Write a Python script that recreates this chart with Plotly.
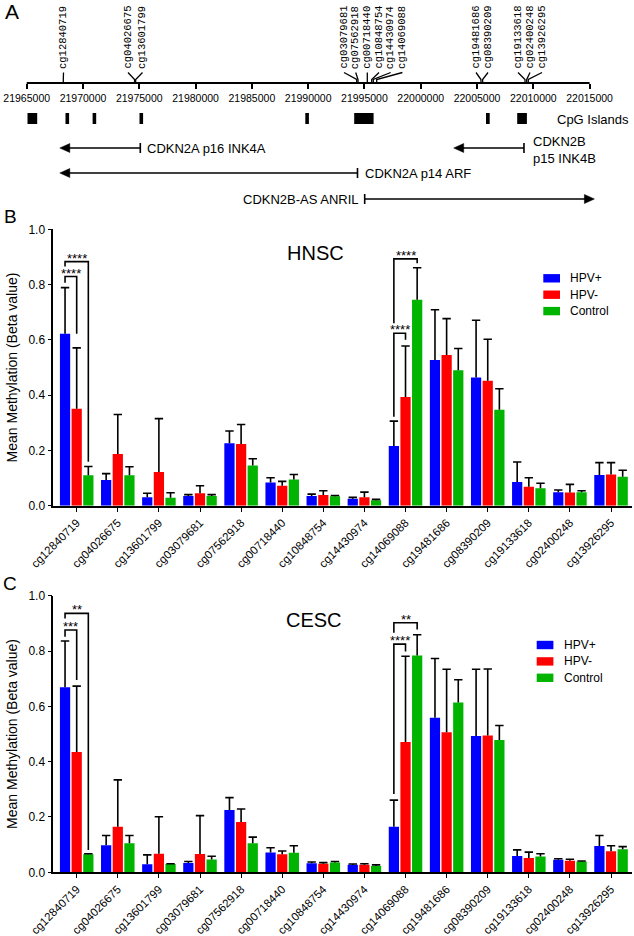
import plotly.graph_objects as go

W, H = 634, 936
FONT = "Liberation Sans, Arial, sans-serif"

# ---------------- data ----------------
probes = ["cg12840719", "cg04026675", "cg13601799", "cg03079681", "cg07562918",
          "cg00718440", "cg10848754", "cg14430974", "cg14069088", "cg19481686",
          "cg08390209", "cg19133618", "cg02400248", "cg13926295"]
series = ["HPV+", "HPV-", "Control"]
colors = ["#0000ff", "#ff0000", "#00b400"]

# HNSC means and SD (upper error)
hnsc_hpvpos = [0.622, 0.093, 0.031, 0.035, 0.226, 0.084, 0.035, 0.025, 0.216, 0.527, 0.464, 0.086, 0.049, 0.111]
hnsc_hpvpos_sd = [0.167, 0.023, 0.014, 0.005, 0.044, 0.017, 0.007, 0.005, 0.090, 0.182, 0.207, 0.072, 0.008, 0.045]
hnsc_hpvneg = [0.351, 0.187, 0.122, 0.045, 0.223, 0.072, 0.039, 0.031, 0.393, 0.545, 0.452, 0.069, 0.048, 0.113]
hnsc_hpvneg_sd = [0.220, 0.143, 0.193, 0.027, 0.071, 0.016, 0.015, 0.018, 0.185, 0.132, 0.150, 0.032, 0.029, 0.043]
hnsc_control = [0.110, 0.110, 0.029, 0.035, 0.145, 0.095, 0.034, 0.020, 0.745, 0.490, 0.347, 0.063, 0.049, 0.105]
hnsc_control_sd = [0.032, 0.031, 0.018, 0.005, 0.025, 0.018, 0.003, 0.003, 0.116, 0.079, 0.076, 0.018, 0.005, 0.023]

# CESC means and SD (upper error)
cesc_hpvpos = [0.669, 0.098, 0.029, 0.034, 0.225, 0.072, 0.033, 0.027, 0.165, 0.559, 0.493, 0.059, 0.045, 0.095]
cesc_hpvpos_sd = [0.167, 0.035, 0.034, 0.005, 0.045, 0.017, 0.004, 0.003, 0.096, 0.214, 0.241, 0.022, 0.004, 0.038]
cesc_hpvneg = [0.435, 0.165, 0.067, 0.066, 0.182, 0.065, 0.031, 0.027, 0.471, 0.506, 0.495, 0.052, 0.042, 0.076]
cesc_hpvneg_sd = [0.238, 0.169, 0.134, 0.139, 0.047, 0.012, 0.004, 0.004, 0.310, 0.228, 0.240, 0.021, 0.005, 0.020]
cesc_control = [0.065, 0.105, 0.030, 0.046, 0.105, 0.071, 0.035, 0.023, 0.784, 0.614, 0.478, 0.057, 0.039, 0.083]
cesc_control_sd = [0.002, 0.028, 0.001, 0.012, 0.022, 0.025, 0.004, 0.004, 0.075, 0.082, 0.053, 0.010, 0.002, 0.010]

# genomic positions (chr9, bp) of the probes
probe_pos = [21968250, 21974580, 21974680, 21994313, 21994428, 21995254, 21995645,
             21995787, 21996089, 22005350, 22005500, 22009261, 22009412, 22009554]
# CpG islands (start, end)
cpg_start = [21965071, 21968446, 21970854, 21975020, 21989747, 21994090, 22005798, 22008569]
cpg_end = [21965933, 21968766, 21971173, 21975339, 21990067, 21995813, 22006127, 22009431]
# genes: transcription start (bar) and end (arrow tip)
gene_names = ["CDKN2A p16 INK4A", "CDKN2A p14 ARF", "CDKN2B p15 INK4B", "CDKN2B-AS ANRIL"]
gene_tss = [21975090, 21994383, 22009170, 21995023]
gene_end = [21967940, 21967940, 22002928, 22015426]
# genomic axis ticks
gtick_vals = list(range(21965000, 22015001, 5000))
gtick_text = [str(v) for v in gtick_vals]

# ---------------- layout helpers ----------------
def py(p):  # pixel row -> paper y
    return 1 - p / H

def px(p):  # pixel col -> paper x
    return p / W

BP_PER_PX = 5000 / 56.29
G0_PX = 26.7  # pixel of 21965000

def px2bp(p):
    return 21965000 + (p - G0_PX) * BP_PER_PX

fig = go.Figure()
BARGAP = 0.15
SLOT = (1 - BARGAP) / 3

panels = [
    ("x", "y", [hnsc_hpvpos, hnsc_hpvneg, hnsc_control], [hnsc_hpvpos_sd, hnsc_hpvneg_sd, hnsc_control_sd]),
    ("x2", "y2", [cesc_hpvpos, cesc_hpvneg, cesc_control], [cesc_hpvpos_sd, cesc_hpvneg_sd, cesc_control_sd]),
]
xs = list(range(len(probes)))
for xa, ya, means, sds in panels:
    for k in range(3):
        fig.add_trace(go.Bar(
            x=xs, y=means[k], name=series[k], marker=dict(color=colors[k], line=dict(width=0)),
            offsetgroup=str(k), xaxis=xa, yaxis=ya, showlegend=False,
            error_y=dict(type="data", array=sds[k], arrayminus=[0] * len(xs), symmetric=False,
                         color="black", thickness=1.6, width=0),
        ))
    for k in range(3):
        fig.add_trace(go.Scatter(
            x=[i + (k - 1) * SLOT for i in xs], y=[m + s for m, s in zip(means[k], sds[k])],
            mode="markers", marker=dict(symbol="line-ew", size=6, line=dict(color="black", width=1.6)),
            xaxis=xa, yaxis=ya, showlegend=False, hoverinfo="skip"))

fig.add_trace(go.Scatter(x=[], y=[], xaxis="x3", yaxis="y3", showlegend=False))

shapes = []
annotations = []

# ---------------- panel A ----------------
AX_Y = 83.0
shapes.append(dict(type="line", xref="x3", yref="paper", x0=gtick_vals[0], x1=gtick_vals[-1],
                   y0=py(AX_Y), y1=py(AX_Y), line=dict(color="black", width=2)))
label_px = [63.5, 128, 142.5, 344, 355.7, 367.3, 379, 390.7, 402.4, 476, 488, 518, 530, 542]
for name, pos, lp in zip(probes, probe_pos, label_px):
    lbp = px2bp(lp)
    shapes.append(dict(type="path", xref="x3", yref="paper",
                       path=f"M {lbp},{py(72.5)} L {pos},{py(79.5)} L {pos},{py(AX_Y)}",
                       line=dict(color="black", width=1.3)))
    annotations.append(dict(text=name, x=lbp, xref="x3", y=py(71), yref="paper",
                            xanchor="center", yanchor="bottom", textangle=-90, showarrow=False,
                            font=dict(family="Liberation Mono, monospace", size=10.5, color="black")))

for s, e in zip(cpg_start, cpg_end):
    shapes.append(dict(type="rect", xref="x3", yref="paper", x0=s, x1=e, y0=py(124), y1=py(113),
                       fillcolor="black", line=dict(width=0)))
annotations.append(dict(text="CpG Islands", x=px(631), y=py(119), xref="paper", yref="paper",
                        xanchor="right", yanchor="middle", showarrow=False,
                        font=dict(family=FONT, size=13, color="black")))

gene_rows = [148, 173, 148, 199]
HEAD = 10 * BP_PER_PX
for tss, end, row in zip(gene_tss, gene_end, gene_rows):
    d = 1 if end > tss else -1
    shapes.append(dict(type="line", xref="x3", yref="paper", x0=tss, x1=end - d * HEAD * 0.8,
                       y0=py(row), y1=py(row), line=dict(color="black", width=1.6)))
    shapes.append(dict(type="line", xref="x3", yref="paper", x0=tss, x1=tss,
                       y0=py(row - 5), y1=py(row + 5), line=dict(color="black", width=1.6)))
    shapes.append(dict(type="path", xref="x3", yref="paper",
                       path=f"M {end},{py(row)} L {end - d * HEAD},{py(row - 4.5)} L {end - d * HEAD},{py(row + 4.5)} Z",
                       fillcolor="black", line=dict(color="black", width=0.5)))

gtxt = dict(family=FONT, size=13, color="black")
annotations += [
    dict(text=gene_names[0], x=px(145), y=py(148), xanchor="left"),
    dict(text=gene_names[1], x=px(363), y=py(173), xanchor="left"),
    dict(text="CDKN2B<br>p15 INK4B", x=px(531), y=py(150), xanchor="left", align="left"),
    dict(text=gene_names[3], x=px(361), y=py(199), xanchor="right"),
]
for a in annotations[-4:]:
    a.update(xref="paper", yref="paper", yanchor="middle", showarrow=False, font=gtxt)

# panel letters
for letter, lx, ly, sz in [("A", 12, 12, 21), ("B", 10, 216, 19), ("C", 10, 583, 19)]:
    annotations.append(dict(text=letter, x=px(lx), y=py(ly), xref="paper", yref="paper",
                            xanchor="center", yanchor="middle", showarrow=False,
                            font=dict(family=FONT, size=sz, color="black")))

# ---------------- panels B & C decorations ----------------
brackets = {
    ("x", "y"): [(0, 0, 1, 0.829, 0.807, 0.622, "****"),
                 (0, 0, 2, 0.883, 0.865, 0.159, "****"),
                 (8, 0, 1, 0.624, 0.322, 0.600, "****"),
                 (8, 0, 2, 0.893, 0.660, 0.877, "****")],
    ("x2", "y2"): [(0, 0, 1, 0.876, 0.852, 0.695, "***"),
                   (0, 0, 2, 0.936, 0.918, 0.081, "**"),
                   (8, 0, 1, 0.825, 0.283, 0.798, "****"),
                   (8, 0, 2, 0.902, 0.866, 0.878, "**")],
}
for (xa, ya), lst in brackets.items():
    for g, a, b, top, lb, rb, lab in lst:
        xl = g + (a - 1) * SLOT
        xr = g + (b - 1) * SLOT
        shapes.append(dict(type="path", xref=xa, yref=ya,
                           path=f"M {xl},{lb} L {xl},{top} L {xr},{top} L {xr},{rb}",
                           line=dict(color="black", width=1.6)))
        annotations.append(dict(text=lab, x=(xl + xr) / 2, y=top, xref=xa, yref=ya,
                                xanchor="center", yanchor="bottom", yshift=-6, showarrow=False,
                                font=dict(family=FONT, size=13, color="black")))

for title, tx, ty in [("HNSC", 315, 253), ("CESC", 314, 620)]:
    annotations.append(dict(text=title, x=px(tx), y=py(ty), xref="paper", yref="paper",
                            xanchor="center", yanchor="middle", showarrow=False,
                            font=dict(family=FONT, size=20, color="black")))

for sx, ty0 in [(543.3, 278.3), (536.7, 645.0)]:
    for k in range(3):
        yc = ty0 + k * 16.4
        shapes.append(dict(type="rect", xref="paper", yref="paper", x0=px(sx), x1=px(sx + 16.7),
                           y0=py(yc + 4.2), y1=py(yc - 4.2), fillcolor=colors[k], line=dict(width=0)))
        annotations.append(dict(text=series[k], x=px(sx + 25), y=py(yc), xref="paper", yref="paper",
                                xanchor="left", yanchor="middle", showarrow=False,
                                font=dict(family=FONT, size=12, color="black")))

# ---------------- axes ----------------
xdom = [px(53.3), px(632)]
x_common = dict(domain=xdom, range=[-0.569, 13.51], tickmode="array", tickvals=xs, ticktext=probes,
                tickangle=-45, showline=True, linecolor="black", linewidth=1.6, ticks="outside",
                ticklen=4, tickwidth=1.4, tickcolor="black", showgrid=False, zeroline=False,
                automargin=False, tickfont=dict(family=FONT, size=11.5, color="black"))
y_common = dict(range=[0, 1.0], tickmode="array", tickvals=[0, 0.2, 0.4, 0.6, 0.8, 1.0],
                ticktext=["0.0", "0.2", "0.4", "0.6", "0.8", "1.0"], showline=True, linecolor="black",
                linewidth=1.6, ticks="outside", ticklen=4, tickwidth=1.4, tickcolor="black",
                showgrid=False, zeroline=False, automargin=False,
                tickfont=dict(family=FONT, size=12, color="black"),
                title=dict(text="Mean Methylation (Beta value)", font=dict(family=FONT, size=14, color="black"),
                           standoff=8))

fig.update_layout(
    width=W, height=H, margin=dict(l=0, r=0, t=0, b=0, autoexpand=False),
    paper_bgcolor="white", plot_bgcolor="white",
    barmode="group", bargap=BARGAP, bargroupgap=0.12,
    showlegend=False,
    xaxis=dict(anchor="y", **x_common),
    yaxis=dict(anchor="x", domain=[py(505.7), py(229.3)], **y_common),
    xaxis2=dict(anchor="y2", **x_common),
    yaxis2=dict(anchor="x2", domain=[py(872.3), py(595.7)], **y_common),
    xaxis3=dict(anchor="y3", domain=[px(G0_PX - 2000 / BP_PER_PX), px(G0_PX + 52000 / BP_PER_PX)],
                range=[21963000, 22017000], tickmode="array", tickvals=gtick_vals, ticktext=gtick_text,
                showline=False, ticks="outside", ticklen=5, tickwidth=1.5, tickcolor="black",
                showgrid=False, zeroline=False, automargin=False,
                tickfont=dict(family=FONT, size=10.5, color="black")),
    yaxis3=dict(anchor="x3", domain=[py(AX_Y), py(60)], range=[0, 1], visible=False, automargin=False),
    shapes=shapes, annotations=annotations,
    font=dict(family=FONT, color="black"),
)

fig.write_html("out.html", config={"displayModeBar": False},
               post_script="document.body.style.margin='0';document.body.style.padding='0';")
